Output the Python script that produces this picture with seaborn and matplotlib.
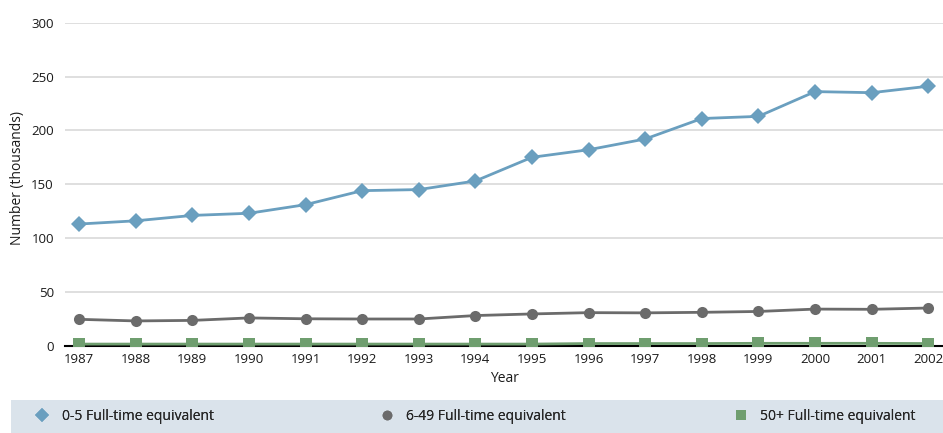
import matplotlib
matplotlib.use("Agg")
import matplotlib.pyplot as plt
import seaborn as sns
import pandas as pd
from matplotlib.patches import Rectangle

years = list(range(1987, 2003))
s_small = [113, 116, 121, 123, 131, 144, 145, 153, 175, 182, 192, 211, 213, 236, 235, 241]
s_mid = [24.5, 23, 23.5, 25.8, 25, 24.8, 24.8, 28, 29.5, 30.7, 30.5, 31, 31.8, 34, 33.8, 35]
s_large = [1.5, 1.5, 1.5, 1.5, 1.5, 1.5, 1.5, 1.5, 1.5, 2.0, 2.0, 2.0, 2.2, 2.2, 2.2, 2.0]
labels = ["0-5 Full-time equivalent", "6-49 Full-time equivalent", "50+ Full-time equivalent"]
colors = ["#6a9fbf", "#6b6b6b", "#6f9e6f"]
markers = ["D", "o", "s"]

df = pd.DataFrame({
    "Year": years * 3,
    "Value": s_small + s_mid + s_large,
    "Series": [labels[0]] * 16 + [labels[1]] * 16 + [labels[2]] * 16,
})

sns.set_theme(style="white")
plt.rcParams["font.family"] = ["Open Sans", "DejaVu Sans"]

fig = plt.figure(figsize=(9.43, 4.33), dpi=100)
ax = fig.add_axes([65 / 943, 1 - 345.7 / 433, 1 - 65 / 943, (345.7 - 22.7) / 433])

sns.lineplot(data=df, x="Year", y="Value", hue="Series", style="Series",
             palette=colors, markers=markers, dashes=False, linewidth=2.0,
             markersize=8, markeredgewidth=0, ax=ax, legend=True)

ax.set_xlim(1986.75, 2002.26)
ax.set_ylim(0, 300)
ax.set_yticks([0, 50, 100, 150, 200, 250, 300])
ax.set_xticks(years)
ax.set_xticklabels([str(y) for y in years])
ax.yaxis.grid(True, color="#d9d9d9", linewidth=1.2)
ax.set_axisbelow(True)
for s in ["top", "right", "left"]:
    ax.spines[s].set_visible(False)
ax.spines["bottom"].set_color("black")
ax.spines["bottom"].set_linewidth(1.5)
ax.spines["bottom"].set_zorder(1)
ax.tick_params(axis="both", length=0, labelsize=9.5, colors="#1a1a1a")
ax.tick_params(axis="y", pad=8)
ax.tick_params(axis="x", pad=5)
ax.set_xlabel("Year", fontsize=10, labelpad=4, color="#1a1a1a")
ax.set_ylabel("Number (thousands)", fontsize=10, color="#1a1a1a")
ax.yaxis.set_label_coords((25 - 65) / 878, 0.52)

handles, lbls = ax.get_legend_handles_labels()
ax.get_legend().remove()

fig.add_artist(Rectangle((11 / 943, 0), 1 - 11 / 943, 33 / 433,
                         transform=fig.transFigure, facecolor="#dae3eb",
                         edgecolor="none", zorder=0))
xs = [30 / 943, 374 / 943, 728 / 943]
for h, l, x in zip(handles, lbls, xs):
    leg = fig.legend([h], [l], loc="center left", bbox_to_anchor=(x, 17 / 433),
                     frameon=False, fontsize=10, handlelength=1.0,
                     handletextpad=0.9, borderaxespad=0)
    for lh in leg.legend_handles:
        lh.set_linestyle("none")
        lh.set_markersize(7)
    fig.add_artist(leg)

fig.savefig("out.png", dpi=100)
